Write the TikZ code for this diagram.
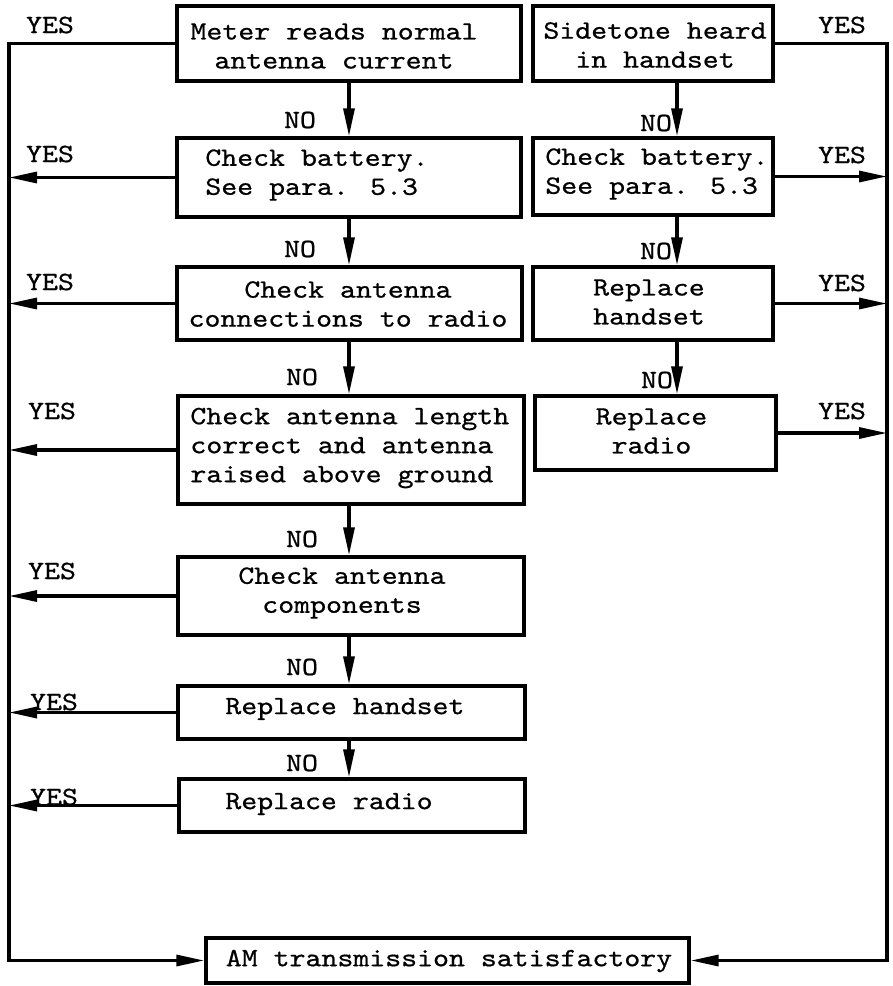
\documentclass[tikz,border=0pt]{standalone}
\usepackage{fontspec}
\newfontfamily\twfont{lmmono10-regular.otf}[FakeStretch=1.15,FakeBold=0.7]
\usetikzlibrary{arrows.meta}
\begin{document}
\begin{tikzpicture}[x=0.5pt,y=-0.5pt,
  box/.style={draw, line width=1.7pt, inner sep=0pt, rectangle},
  txt/.style={inner sep=0pt, font={\twfont\fontsize{13.2}{14.5}\selectfont}},
  conn/.style={line width=1.6pt, line join=miter},
  arr/.style={conn, -{Triangle[length=14pt,width=5.5pt]}}]
\useasboundingbox (0,0) rectangle (893,986);
% guide coordinates
\coordinate (lx) at (349,0);
\coordinate (rx) at (677,0);
\coordinate (ll) at (9,0);
\coordinate (rr) at (887,0);
% boxes, left column
\node[box, minimum width=172pt, minimum height=37.5pt] (L1) at (349,43.5) {};
\node[box, minimum width=172pt, minimum height=39.5pt] (L2) at (349,177.5) {};
\node[box, minimum width=172.5pt, minimum height=36.5pt] (L3) at (349.5,303.5) {};
\node[box, minimum width=173pt, minimum height=54pt] (L4) at (351,450) {};
\node[box, minimum width=173pt, minimum height=39pt] (L5) at (351,596) {};
\node[box, minimum width=173.5pt, minimum height=26.5pt] (L6) at (351.5,712.5) {};
\node[box, minimum width=173pt, minimum height=26.5pt] (L7) at (352,805.5) {};
\node[box, minimum width=241.5pt, minimum height=22.5pt] (B) at (447.5,960.5) {};
% boxes, right column
\node[box, minimum width=120pt, minimum height=37.5pt] (R1) at (653,43.5) {};
\node[box, minimum width=120pt, minimum height=38.5pt] (R2) at (653,176.5) {};
\node[box, minimum width=120pt, minimum height=36.5pt] (R3) at (653,303.5) {};
\node[box, minimum width=120.5pt, minimum height=37pt] (R4) at (655.5,433) {};
% box texts
\node[txt, align=center] (t1) at (334,46) {Meter reads normal\\antenna current};
\node[txt, align=left, anchor=west] (t2) at (205,175) {Check battery.\\See para. 5.3};
\node[txt, align=center] (t3) at (348,304) {Check antenna\\connections to radio};
\node[txt, align=left, anchor=west] (t4) at (190,448) {Check antenna length\\correct and antenna\\raised above ground};
\node[txt, align=center] (t5) at (342,593) {Check antenna\\components};
\node[txt, anchor=west] (t6) at (225,709) {Replace handset};
\node[txt, anchor=west] (t7) at (225,804) {Replace radio};
\node[txt] (tB) at (449,961) {AM transmission satisfactory};
\node[txt, align=center] (tR1) at (655,45) {Sidetone heard\\in handset};
\node[txt, align=left, anchor=west] (tR2) at (545,174) {Check battery.\\See para. 5.3};
\node[txt, align=center] (tR3) at (649,302) {Replace\\handset};
\node[txt, align=center] (tR4) at (651.5,431) {Replace\\radio};
% NO arrows
\draw[arr] (L1.south -| lx) -- (L2.north -| lx);
\draw[arr] (L2.south -| lx) -- (L3.north -| lx);
\draw[arr] (L3.south -| lx) -- (L4.north -| lx);
\draw[arr] (L4.south -| lx) -- (L5.north -| lx);
\draw[arr] (L5.south -| lx) -- (L6.north -| lx);
\draw[arr] (L6.south -| lx) -- (L7.north -| lx);
\draw[arr] (R1.south -| rx) -- (R2.north -| rx);
\draw[arr] (R2.south -| rx) -- (R3.north -| rx);
\draw[arr] (R3.south -| rx) -- (R4.north -| rx);
% YES connectors, left
\draw[arr] (L1.west) -- (L1.west -| ll) -- (B.west -| ll) -- (B.west);
\draw[arr] (L2.west) -- (L2.west -| ll);
\draw[arr] (L3.west) -- (L3.west -| ll);
\draw[arr] (L4.west) -- (L4.west -| ll);
\draw[arr] (L5.west) -- (L5.west -| ll);
\draw[arr] (L6.west) -- (L6.west -| ll);
\draw[arr] (L7.west) -- (L7.west -| ll);
% YES connectors, right
\draw[arr] (R1.east) -- (R1.east -| rr) -- (B.east -| rr) -- (B.east);
\draw[arr] (R2.east) -- (R2.east -| rr);
\draw[arr] (R3.east) -- (R3.east -| rr);
\draw[arr] (R4.east) -- (R4.east -| rr);
% NO labels
\node[txt] (n1) at (300,120) {NO};
\node[txt] (n2) at (300,249) {NO};
\node[txt] (n3) at (302,377) {NO};
\node[txt] (n4) at (302,539) {NO};
\node[txt] (n5) at (302,667) {NO};
\node[txt] (n6) at (302,763) {NO};
\node[txt] (n7) at (656,123) {NO};
\node[txt] (n8) at (656,251) {NO};
\node[txt] (n9) at (657,380) {NO};
% YES labels
\node[txt] (y1) at (50,25) {YES};
\node[txt] (y2) at (50,154) {YES};
\node[txt] (y3) at (50,282) {YES};
\node[txt] (y4) at (52,411) {YES};
\node[txt] (y5) at (52,571) {YES};
\node[txt] (y6) at (54,702) {YES};
\node[txt] (y7) at (54,797) {YES};
\node[txt] (y8) at (842,25) {YES};
\node[txt] (y9) at (842,155) {YES};
\node[txt] (y10) at (842,283) {YES};
\node[txt] (y11) at (842,411) {YES};
\end{tikzpicture}
\end{document}
